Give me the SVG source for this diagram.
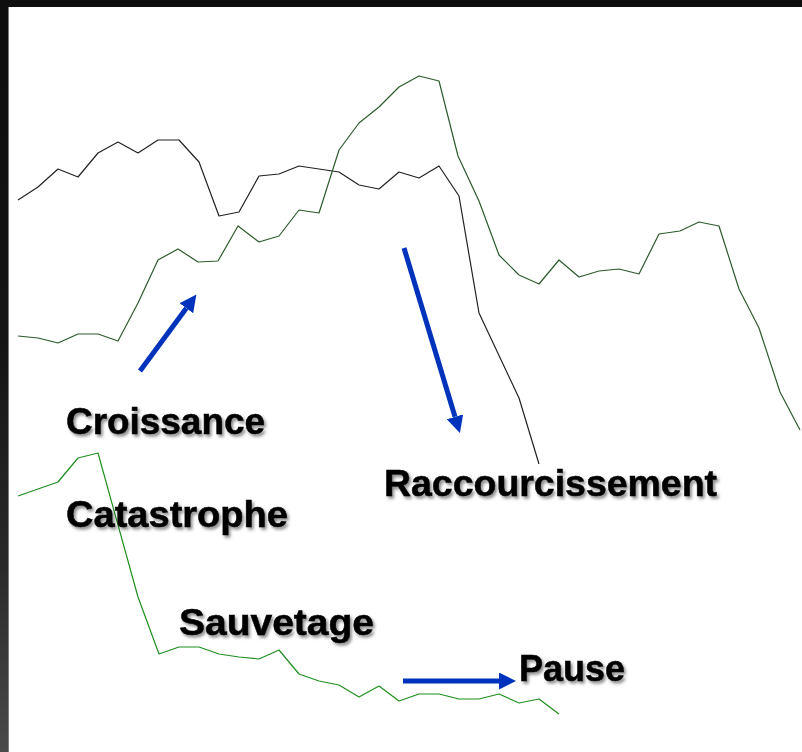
<svg xmlns="http://www.w3.org/2000/svg" width="802" height="752" viewBox="0 0 802 752">
<defs>
<linearGradient id="sideGrad" x1="0" y1="0" x2="0" y2="1">
<stop offset="0" stop-color="#0e0e0e"/>
<stop offset="0.45" stop-color="#141414"/>
<stop offset="0.75" stop-color="#2a2a2a"/>
<stop offset="1" stop-color="#4a4a4a"/>
</linearGradient>
<filter id="shadow" x="-10%" y="-30%" width="120%" height="160%">
<feDropShadow dx="2" dy="2.5" stdDeviation="1.5" flood-color="#000" flood-opacity="0.45"/>
</filter>
<marker id="head" viewBox="0 0 17 17" refX="0" refY="8.5" markerWidth="17" markerHeight="17" markerUnits="userSpaceOnUse" orient="auto">
<path d="M0,0 L17,8.5 L0,17 z" fill="#0033bb"/>
</marker>
</defs>
<style>
.curve{fill:none;stroke-width:1.2;stroke-linejoin:round}
.black{stroke:#222}
.dgreen{stroke:#2d5a2d}
.bgreen{stroke:#1f8f1f}
.arrow{fill:none;stroke:#0033bb;stroke-width:5;marker-end:url(#head)}
.label{font-family:"Liberation Sans",Arial,sans-serif;font-weight:bold;font-size:36px;fill:#000;stroke:#000;stroke-width:0.5;filter:url(#shadow)}
</style>
<rect x="0" y="0" width="802" height="752" fill="#ffffff"/>
<rect x="0" y="0" width="802" height="7" fill="#0e0e0e"/>
<rect x="0" y="0" width="8" height="752" fill="url(#sideGrad)"/>
<rect x="8" y="7" width="1" height="745" fill="#7a7a7a"/>
<g id="curves">
<polyline class="curve black" points="18,200 38,187 58,169 78,177 98,153 118,142 138,153 158,140 179,140 199,162 219,216 239,212 259,176 279,174 299,166 319,169 339,172 359,185 379,189 399,172 419,178 439,166 459,196 479,313 519,398 539,464"/>
<polyline class="curve dgreen" points="18,336 38,338 58,343 78,334 98,334 118,341 138,303 158,260 178,249 198,262 218,261 238,226 259,242 279,236 299,210 319,213 339,150 359,123 379,107 399,87 419,76 439,81 458,156 479,201 499,255 519,275 539,284 559,260 579,277 599,271 619,269 639,274 659,234 680,231 699,222 719,226 739,289 759,328 780,392 800,430"/>
<polyline class="curve bgreen" points="18,496 38,489 58,482 78,458 98,453 138,597 159,654 179,647 199,647 219,654 239,657 259,659 279,650 299,674 319,681 339,685 359,697 379,686 399,701 419,694 439,694 459,699 479,699 499,694 519,703 539,699 559,714"/>
</g>
<g id="connectors">
<line class="arrow" x1="140" y1="371" x2="186.3" y2="308.2"/>
<line class="arrow" x1="404" y1="248" x2="455" y2="416.8"/>
<line class="arrow" x1="403" y1="681" x2="499" y2="681"/>
</g>
<g id="croissance"><text class="label" x="66" y="434" textLength="199" lengthAdjust="spacingAndGlyphs">Croissance</text></g>
<g id="catastrophe"><text class="label" x="66" y="527" textLength="222" lengthAdjust="spacingAndGlyphs">Catastrophe</text></g>
<g id="sauvetage"><text class="label" x="179" y="635" textLength="195" lengthAdjust="spacingAndGlyphs">Sauvetage</text></g>
<g id="raccourcissement"><text class="label" x="384" y="496" textLength="333" lengthAdjust="spacingAndGlyphs">Raccourcissement</text></g>
<g id="pause"><text class="label" x="519" y="681" textLength="106" lengthAdjust="spacingAndGlyphs">Pause</text></g>
</svg>
